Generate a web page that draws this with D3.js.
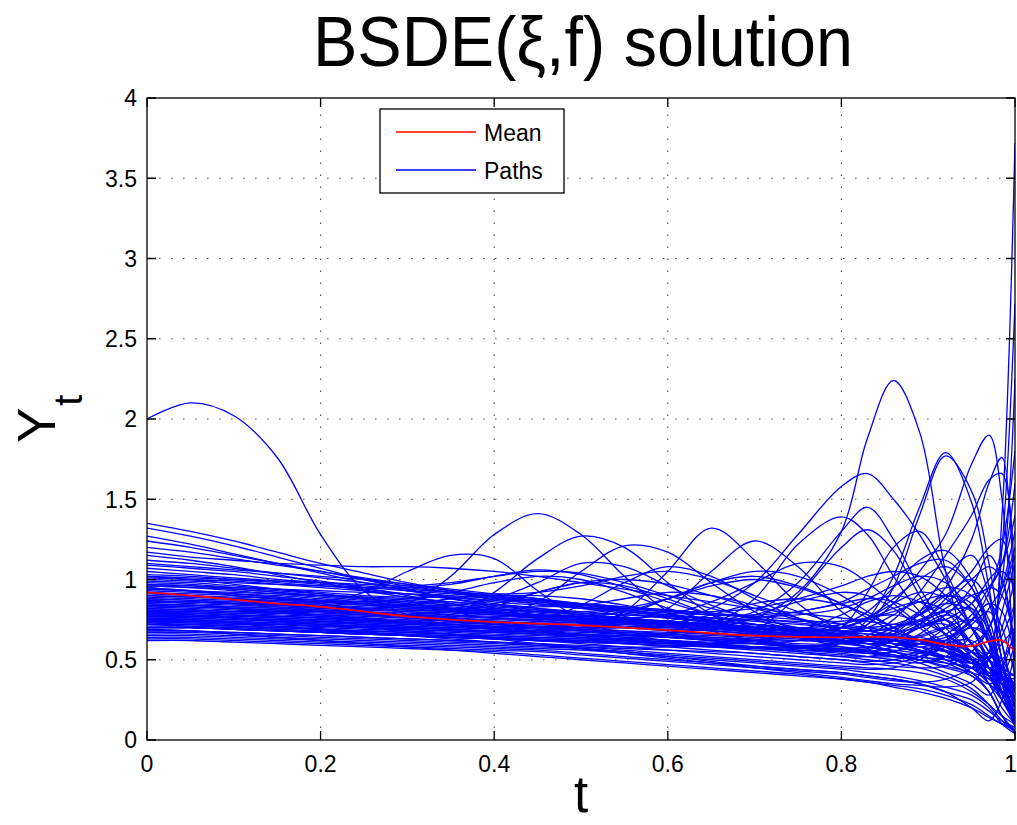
<!DOCTYPE html>
<html>
<head>
<meta charset="utf-8">
<script src="https://cdn.jsdelivr.net/npm/d3@7"></script>
<style>
  body { margin: 0; background: #fff; }
  text { font-family: "Liberation Sans", Arial, Helvetica, sans-serif; fill: #000; }
</style>
</head>
<body>
<script>
// Temps de la grille (plus fin vers t = 1)
const tGrid = [0, 0.05, 0.1, 0.15, 0.2, 0.25, 0.3, 0.35, 0.4, 0.45, 0.5, 0.55, 0.6, 0.65, 0.7, 0.75, 0.8,
  0.83, 0.86, 0.89, 0.92, 0.95, 0.97, 0.985, 1];

// Moyenne (rouge)
const meanPath = [0.92, 0.90, 0.875, 0.85, 0.83, 0.80, 0.77, 0.75, 0.735, 0.725, 0.715, 0.70, 0.685, 0.665, 0.65,
  0.643, 0.64, 0.642, 0.64, 0.625, 0.595, 0.585, 0.615, 0.62, 0.55];

// Trajectoires (bleu), une valeur par temps de tGrid
const paths = [
  [2.00,2.10,2.02,1.76,1.28, 0.93,0.78,0.74,0.72,0.70, 0.68,0.66,0.64,0.62,0.60, 0.58,0.57,0.58,0.62,0.70, 0.75,0.60,0.45,0.35,0.30],
  [0.95,0.93,0.90,0.88,0.85, 0.82,0.85,1.02,1.28,1.41, 1.28,1.02,0.80,0.68,0.62, 0.58,0.55,0.55,0.58,0.62, 0.60,0.50,0.40,0.30,0.25],
  [0.85,0.84,0.82,0.80,0.78, 0.76,0.74,0.78,0.92,1.13, 1.27,1.20,0.98,0.78,0.65, 0.58,0.55,0.56,0.62,0.70, 0.72,0.60,0.50,0.45,0.40],
  [0.86,0.86,0.85,0.85,0.86, 0.92,1.05,1.15,1.13,0.93, 0.75,0.66,0.62,0.60,0.58, 0.55,0.52,0.52,0.55,0.60, 0.58,0.50,0.42,0.35,0.30],
  [0.80,0.79,0.78,0.77,0.76, 0.74,0.73,0.73,0.76,0.86, 1.05,1.21,1.17,0.98,0.80, 0.68,0.62,0.60,0.62,0.70, 0.78,0.70,0.55,0.45,0.40],
  [0.78,0.77,0.76,0.75,0.74, 0.72,0.70,0.69,0.68,0.68, 0.70,0.80,1.05,1.32,1.12, 0.85,0.68,0.62,0.60,0.60, 0.62,0.55,0.45,0.38,0.32],
  [0.92,0.90,0.88,0.86,0.84, 0.82,0.80,0.78,0.76,0.74, 0.73,0.74,0.82,1.05,1.24, 1.08,0.80,0.70,0.62,0.58, 0.55,0.50,0.45,0.40,0.35],
  [0.70,0.70,0.69,0.68,0.67, 0.66,0.65,0.64,0.63,0.62, 0.62,0.63,0.66,0.72,0.88, 1.22,1.39,1.28,1.02,0.80, 0.66,0.55,0.45,0.35,0.30],
  [0.82,0.81,0.80,0.79,0.78, 0.77,0.76,0.75,0.74,0.73, 0.72,0.72,0.74,0.82,0.98, 1.28,1.58,1.66,1.50,1.28, 1.00,0.70,0.50,0.40,0.35],
  [0.74,0.74,0.73,0.72,0.71, 0.70,0.69,0.68,0.67,0.66, 0.65,0.65,0.66,0.70,0.76, 0.92,1.30,1.88,2.24,1.92, 1.05,0.50,0.35,0.30,0.30],
  [0.95,0.93,0.91,0.89,0.87, 0.85,0.83,0.81,0.79,0.77, 0.75,0.74,0.73,0.74,0.80, 0.98,1.30,1.45,1.25,0.95, 0.70,0.55,0.45,0.40,0.38],
  [0.68,0.68,0.67,0.66,0.65, 0.64,0.63,0.62,0.61,0.60, 0.59,0.58,0.58,0.60,0.68, 0.90,1.20,1.31,1.18,0.90, 0.65,0.50,0.40,0.30,0.25],
  [0.72,0.72,0.71,0.70,0.69, 0.68,0.67,0.66,0.65,0.64, 0.63,0.62,0.61,0.60,0.60, 0.62,0.70,0.92,1.20,1.30, 1.05,0.70,0.50,0.35,0.30],
  [0.80,0.79,0.78,0.77,0.76, 0.75,0.74,0.72,0.70,0.68, 0.66,0.64,0.62,0.60,0.58, 0.58,0.62,0.75,1.02,1.45, 1.79,1.48,0.95,0.50,0.20],
  [1.02,1.00,0.97,0.94,0.91, 0.88,0.85,0.82,0.80,0.78, 0.76,0.74,0.72,0.70,0.68, 0.66,0.66,0.72,0.95,1.40, 1.77,1.55,1.10,0.60,0.25],
  [0.75,0.75,0.74,0.73,0.72, 0.71,0.70,0.69,0.68,0.67, 0.66,0.65,0.64,0.63,0.62, 0.62,0.65,0.72,0.85,1.05, 1.28,1.72,1.90,1.50,0.30],
  [0.88,0.87,0.86,0.84,0.82, 0.80,0.78,0.76,0.74,0.72, 0.70,0.68,0.66,0.64,0.62, 0.60,0.60,0.62,0.68,0.78, 0.95,1.25,1.60,1.76,0.60],
  [0.70,0.70,0.69,0.68,0.67, 0.66,0.65,0.64,0.63,0.62, 0.61,0.60,0.59,0.58,0.58, 0.58,0.60,0.65,0.75,0.92, 1.15,1.40,1.62,1.66,0.90],
  [0.83,0.82,0.81,0.80,0.79, 0.78,0.77,0.76,0.75,0.74, 0.73,0.72,0.71,0.70,0.69, 0.68,0.67,0.66,0.65,0.62, 0.55,0.45,0.55,1.40,3.72],
  [0.97,0.96,0.94,0.92,0.90, 0.88,0.86,0.84,0.82,0.80, 0.78,0.76,0.74,0.72,0.70, 0.68,0.66,0.64,0.62,0.58, 0.52,0.48,0.55,1.20,2.72],
  [1.35,1.30,1.24,1.17,1.10, 1.04,0.98,0.93,0.89,0.86, 0.83,0.80,0.77,0.74,0.72, 0.70,0.68,0.68,0.70,0.75, 0.80,0.70,0.55,0.40,0.20],
  [1.32,1.27,1.21,1.14,1.07, 1.00,0.94,0.88,0.84,0.81, 0.78,0.75,0.72,0.70,0.68, 0.66,0.64,0.62,0.60,0.56, 0.50,0.45,0.50,0.60,0.70],
  [1.17,1.14,1.12,1.10,1.09, 1.08,1.08,1.07,1.05,1.02, 0.98,0.94,0.90,0.86,0.82, 0.79,0.76,0.74,0.72,0.72, 0.75,0.85,0.95,0.90,0.60],
  [1.27,1.22,1.16,1.10,1.04, 0.98,0.93,0.89,0.86,0.84, 0.82,0.80,0.78,0.76,0.74, 0.72,0.70,0.70,0.72,0.78, 0.85,0.80,0.60,0.35,0.10],
  [1.24,1.20,1.15,1.10,1.05, 1.00,0.96,0.92,0.88,0.85, 0.82,0.79,0.76,0.73,0.70, 0.67,0.64,0.62,0.60,0.58, 0.62,0.75,0.85,0.70,0.40],
  [1.20,1.17,1.13,1.09,1.05, 1.01,0.97,0.93,0.90,0.87, 0.84,0.81,0.78,0.75,0.72, 0.69,0.66,0.64,0.63,0.65, 0.70,0.60,0.40,0.25,0.15],
  [1.12,1.10,1.07,1.04,1.01, 0.98,0.95,0.92,0.89,0.87, 0.85,0.83,0.81,0.79,0.76, 0.73,0.70,0.68,0.66,0.64, 0.60,0.50,0.35,0.20,0.10],
  [1.10,1.08,1.06,1.04,1.02, 1.00,0.97,0.94,0.91,0.88, 0.85,0.82,0.80,0.78,0.77, 0.78,0.82,0.88,0.96,1.02, 0.98,0.80,0.60,0.45,0.35],
  [1.07,1.05,1.03,1.00,0.98, 0.96,0.94,0.92,0.91,0.92, 0.96,1.02,1.05,1.00,0.90, 0.80,0.72,0.68,0.65,0.62, 0.60,0.55,0.50,0.40,0.30],
  [1.05,1.03,1.01,0.99,0.97, 0.95,0.93,0.91,0.89,0.87, 0.85,0.83,0.81,0.79,0.77, 0.75,0.72,0.70,0.68,0.70, 0.78,0.95,1.15,1.00,0.50],
  [1.03,1.02,1.00,0.98,0.96, 0.94,0.91,0.88,0.85,0.82, 0.79,0.76,0.73,0.70,0.67, 0.64,0.61,0.58,0.55,0.52, 0.48,0.40,0.30,0.15,0.06],
  [1.00,0.99,0.98,0.97,0.96, 0.95,0.95,0.97,1.02,1.06, 1.03,0.95,0.86,0.78,0.72, 0.68,0.64,0.62,0.60,0.58, 0.55,0.50,0.45,0.50,0.65],
  [0.98,0.97,0.95,0.93,0.91, 0.89,0.87,0.85,0.83,0.81, 0.80,0.82,0.88,0.96,1.00, 0.95,0.85,0.78,0.70,0.62, 0.55,0.45,0.35,0.25,0.15],
  [0.96,0.95,0.94,0.92,0.90, 0.88,0.86,0.84,0.82,0.80, 0.78,0.76,0.74,0.72,0.70, 0.68,0.70,0.76,0.88,1.00, 1.08,0.95,0.70,0.40,0.15],
  [0.94,0.93,0.91,0.89,0.87, 0.85,0.83,0.81,0.79,0.77, 0.75,0.73,0.71,0.69,0.67, 0.65,0.62,0.60,0.58,0.55, 0.52,0.55,0.70,0.95,1.30],
  [0.92,0.91,0.90,0.88,0.86, 0.84,0.82,0.80,0.78,0.76, 0.74,0.72,0.70,0.68,0.66, 0.64,0.62,0.62,0.65,0.72, 0.82,0.90,0.75,0.40,0.10],
  [0.90,0.89,0.88,0.87,0.86, 0.86,0.88,0.92,0.98,1.02, 1.00,0.92,0.82,0.74,0.68, 0.64,0.60,0.58,0.56,0.54, 0.52,0.48,0.40,0.30,0.20],
  [0.88,0.87,0.86,0.85,0.84, 0.83,0.82,0.81,0.80,0.78, 0.76,0.74,0.72,0.70,0.68, 0.66,0.64,0.62,0.60,0.56, 0.50,0.42,0.30,0.15,0.05],
  [0.86,0.86,0.85,0.84,0.83, 0.82,0.81,0.80,0.79,0.78, 0.77,0.80,0.88,0.98,1.05, 1.02,0.90,0.80,0.70,0.62, 0.55,0.48,0.42,0.38,0.35],
  [0.84,0.84,0.83,0.82,0.81, 0.80,0.79,0.78,0.77,0.76, 0.75,0.74,0.73,0.72,0.71, 0.70,0.72,0.80,0.95,1.12, 1.18,1.00,0.70,0.45,0.25],
  [0.82,0.81,0.80,0.79,0.77, 0.75,0.73,0.71,0.69,0.67, 0.65,0.63,0.61,0.59,0.57, 0.55,0.53,0.52,0.52,0.55, 0.62,0.75,0.85,0.80,0.50],
  [0.80,0.80,0.79,0.79,0.78, 0.78,0.78,0.80,0.85,0.92, 0.98,1.00,0.97,0.90,0.82, 0.75,0.68,0.64,0.60,0.56, 0.52,0.45,0.38,0.30,0.22],
  [0.78,0.77,0.76,0.75,0.74, 0.73,0.72,0.71,0.70,0.69, 0.68,0.67,0.66,0.65,0.64, 0.63,0.62,0.60,0.58,0.55, 0.50,0.42,0.35,0.40,0.60],
  [0.77,0.77,0.76,0.75,0.74, 0.73,0.72,0.71,0.70,0.70, 0.72,0.78,0.88,0.98,1.02, 0.96,0.85,0.76,0.68,0.62, 0.58,0.52,0.45,0.35,0.25],
  [0.75,0.74,0.73,0.72,0.71, 0.70,0.69,0.68,0.67,0.66, 0.65,0.64,0.62,0.60,0.58, 0.56,0.54,0.52,0.50,0.48, 0.52,0.65,0.82,0.95,1.20],
  [0.74,0.74,0.73,0.72,0.71, 0.70,0.69,0.68,0.67,0.66, 0.64,0.62,0.60,0.58,0.56, 0.54,0.52,0.50,0.48,0.45, 0.40,0.32,0.22,0.12,0.05],
  [0.72,0.72,0.71,0.70,0.69, 0.68,0.67,0.66,0.65,0.64, 0.63,0.62,0.61,0.60,0.62, 0.68,0.78,0.86,0.90,0.86, 0.75,0.60,0.45,0.30,0.20],
  [0.70,0.70,0.69,0.68,0.67, 0.66,0.65,0.64,0.63,0.62, 0.61,0.60,0.59,0.58,0.57, 0.56,0.55,0.54,0.55,0.60, 0.70,0.85,1.00,1.10,1.40],
  [0.68,0.68,0.67,0.66,0.65, 0.64,0.63,0.62,0.61,0.60, 0.58,0.56,0.54,0.52,0.50, 0.48,0.46,0.45,0.44,0.42, 0.38,0.30,0.22,0.15,0.10],
  [0.66,0.66,0.65,0.64,0.63, 0.62,0.61,0.60,0.59,0.58, 0.57,0.55,0.53,0.51,0.49, 0.47,0.45,0.44,0.45,0.50, 0.60,0.70,0.65,0.40,0.15],
  [0.64,0.64,0.63,0.62,0.61, 0.60,0.59,0.58,0.57,0.56, 0.54,0.52,0.50,0.48,0.46, 0.44,0.42,0.40,0.38,0.35, 0.30,0.25,0.18,0.12,0.08],
  [0.62,0.62,0.61,0.60,0.59, 0.58,0.57,0.56,0.55,0.53, 0.51,0.49,0.47,0.45,0.43, 0.41,0.38,0.36,0.34,0.32, 0.28,0.22,0.15,0.10,0.06],
  [0.93,0.92,0.91,0.90,0.88, 0.86,0.84,0.82,0.80,0.78, 0.76,0.74,0.72,0.70,0.68, 0.66,0.64,0.63,0.62,0.60, 0.58,0.60,0.70,1.00,2.25],
  [0.85,0.84,0.83,0.82,0.80, 0.78,0.76,0.74,0.72,0.70, 0.68,0.66,0.64,0.62,0.60, 0.58,0.56,0.55,0.58,0.66, 0.78,0.90,0.95,1.10,1.60],
  [0.79,0.78,0.77,0.76,0.75, 0.74,0.73,0.72,0.71,0.70, 0.69,0.68,0.67,0.66,0.65, 0.64,0.63,0.64,0.70,0.80, 0.90,0.85,0.60,0.30,0.08],
  [0.97,0.96,0.95,0.94,0.93, 0.92,0.91,0.90,0.88,0.86, 0.84,0.82,0.80,0.80,0.82, 0.88,0.96,1.02,1.05,1.02, 0.90,0.70,0.50,0.35,0.25],
  [1.02,1.01,1.00,0.99,0.98, 0.97,0.96,0.98,1.02,1.05, 1.04,0.98,0.90,0.82,0.76, 0.70,0.65,0.62,0.58,0.55, 0.50,0.45,0.50,0.70,1.00],
  [0.73,0.73,0.72,0.72,0.71, 0.71,0.72,0.76,0.83,0.92, 0.98,0.96,0.88,0.78,0.70, 0.64,0.58,0.55,0.52,0.50, 0.48,0.45,0.40,0.30,0.18],
  [0.87,0.86,0.85,0.84,0.83, 0.82,0.81,0.80,0.79,0.78, 0.77,0.76,0.78,0.86,0.98, 1.10,1.08,0.98,0.85,0.72, 0.60,0.50,0.40,0.35,0.32],
  [0.81,0.80,0.79,0.78,0.77, 0.76,0.75,0.74,0.73,0.72, 0.71,0.70,0.69,0.68,0.66, 0.64,0.62,0.62,0.66,0.80, 1.02,1.15,0.90,0.50,0.20],
  [0.90,0.89,0.88,0.87,0.86, 0.85,0.84,0.84,0.88,0.98, 1.10,1.08,0.96,0.84,0.75, 0.68,0.62,0.58,0.55,0.52, 0.50,0.48,0.45,0.42,0.40],
  [0.76,0.76,0.75,0.74,0.73, 0.72,0.71,0.70,0.70,0.74, 0.84,0.98,1.08,1.02,0.88, 0.76,0.68,0.64,0.62,0.64, 0.70,0.75,0.65,0.45,0.30],
  [0.69,0.68,0.66,0.64,0.62, 0.60,0.58,0.56,0.54,0.52, 0.50,0.48,0.46,0.44,0.42, 0.40,0.38,0.36,0.33,0.30, 0.26,0.20,0.14,0.10,0.08],
  [0.80,0.78,0.76,0.74,0.72, 0.70,0.68,0.66,0.63,0.60, 0.57,0.54,0.51,0.48,0.45, 0.42,0.39,0.37,0.35,0.34, 0.33,0.36,0.50,0.80,1.10],
  [0.76,0.75,0.73,0.71,0.69, 0.67,0.65,0.63,0.61,0.59, 0.57,0.55,0.52,0.49,0.46, 0.44,0.42,0.40,0.38,0.35, 0.30,0.20,0.12,0.25,0.55],
  [1.15,1.12,1.08,1.03,0.98, 0.93,0.89,0.86,0.84,0.83, 0.84,0.88,0.92,0.90,0.84, 0.76,0.70,0.68,0.70,0.78, 0.90,1.00,0.85,0.50,0.20],
  [1.09,1.07,1.05,1.02,0.99, 0.95,0.90,0.85,0.80,0.76, 0.73,0.70,0.68,0.66,0.65, 0.66,0.70,0.76,0.85,0.92, 0.88,0.70,0.45,0.25,0.12],
  [0.99,0.98,0.96,0.94,0.92, 0.90,0.89,0.89,0.90,0.90, 0.88,0.84,0.79,0.74,0.70, 0.68,0.70,0.75,0.82,0.86, 0.80,0.60,0.40,0.30,0.35],
  [0.91,0.90,0.89,0.88,0.87, 0.86,0.84,0.82,0.79,0.76, 0.73,0.71,0.70,0.72,0.78, 0.86,0.92,0.90,0.82,0.70, 0.58,0.48,0.40,0.45,0.70],
  [0.83,0.83,0.82,0.81,0.80, 0.79,0.78,0.77,0.76,0.75, 0.74,0.73,0.72,0.71,0.70, 0.68,0.64,0.60,0.55,0.50, 0.45,0.40,0.30,0.15,0.05],
  [0.81,0.81,0.80,0.80,0.80, 0.81,0.84,0.88,0.90,0.88, 0.83,0.77,0.72,0.68,0.66, 0.65,0.66,0.70,0.78,0.88, 0.95,0.90,0.70,0.40,0.12],
  [0.79,0.79,0.78,0.77,0.76, 0.75,0.74,0.73,0.72,0.71, 0.70,0.70,0.72,0.78,0.85, 0.88,0.84,0.78,0.70,0.62, 0.55,0.50,0.52,0.65,0.85],
  [0.77,0.76,0.75,0.74,0.73, 0.72,0.71,0.70,0.69,0.68, 0.67,0.66,0.65,0.64,0.63, 0.62,0.61,0.62,0.66,0.74, 0.85,1.00,1.08,1.00,0.55],
  [0.75,0.75,0.74,0.73,0.72, 0.71,0.70,0.69,0.68,0.67, 0.66,0.65,0.64,0.62,0.60, 0.58,0.56,0.54,0.52,0.52, 0.58,0.72,0.80,0.60,0.20],
  [0.73,0.72,0.71,0.70,0.69, 0.68,0.67,0.66,0.64,0.62, 0.60,0.58,0.56,0.54,0.52, 0.50,0.48,0.47,0.48,0.52, 0.60,0.62,0.50,0.30,0.10],
  [0.71,0.71,0.70,0.69,0.68, 0.67,0.66,0.65,0.64,0.63, 0.62,0.61,0.60,0.60,0.62, 0.66,0.72,0.76,0.78,0.74, 0.66,0.55,0.45,0.35,0.25],
  [0.67,0.67,0.66,0.65,0.64, 0.63,0.62,0.61,0.60,0.59, 0.58,0.57,0.56,0.55,0.54, 0.52,0.50,0.48,0.46,0.45, 0.46,0.55,0.70,0.90,1.15],
  [0.65,0.65,0.64,0.63,0.62, 0.61,0.60,0.59,0.58,0.57, 0.56,0.54,0.52,0.50,0.48, 0.46,0.44,0.42,0.40,0.37, 0.33,0.28,0.20,0.10,0.04],
  [0.63,0.63,0.62,0.61,0.60, 0.59,0.58,0.57,0.56,0.55, 0.53,0.51,0.49,0.47,0.45, 0.43,0.41,0.39,0.37,0.36, 0.38,0.45,0.55,0.50,0.30],
  [0.87,0.86,0.85,0.83,0.81, 0.79,0.77,0.75,0.73,0.71, 0.69,0.67,0.65,0.63,0.61, 0.59,0.57,0.55,0.53,0.50, 0.46,0.42,0.38,0.30,0.15],
  [0.89,0.88,0.87,0.86,0.85, 0.84,0.83,0.82,0.81,0.80, 0.79,0.78,0.77,0.76,0.75, 0.74,0.74,0.76,0.80,0.86, 0.90,0.82,0.62,0.40,0.25],
  [1.01,1.00,0.99,0.97,0.95, 0.93,0.91,0.89,0.87,0.85, 0.83,0.81,0.79,0.78,0.78, 0.80,0.86,0.94,1.02,1.10, 1.12,0.95,0.65,0.35,0.10],
  [0.94,0.93,0.92,0.91,0.90, 0.89,0.88,0.86,0.84,0.82, 0.80,0.78,0.76,0.74,0.72, 0.70,0.68,0.66,0.64,0.62, 0.64,0.74,0.92,1.20,1.80],
  [0.84,0.83,0.82,0.81,0.80, 0.79,0.78,0.77,0.76,0.75, 0.74,0.73,0.72,0.71,0.70, 0.69,0.68,0.68,0.70,0.74, 0.80,0.82,0.68,0.45,0.25],
  [0.78,0.78,0.77,0.76,0.75, 0.74,0.73,0.72,0.71,0.70, 0.70,0.70,0.71,0.73,0.76, 0.80,0.85,0.88,0.86,0.78, 0.66,0.52,0.40,0.28,0.15],
  [0.72,0.71,0.70,0.69,0.68, 0.67,0.66,0.65,0.64,0.63, 0.62,0.61,0.60,0.59,0.58, 0.57,0.56,0.57,0.62,0.72, 0.88,1.05,1.20,1.25,0.80],
  [0.70,0.70,0.69,0.68,0.67, 0.66,0.65,0.64,0.63,0.62, 0.61,0.60,0.58,0.56,0.54, 0.52,0.50,0.49,0.50,0.54, 0.62,0.70,0.62,0.35,0.12],
  [0.86,0.85,0.84,0.83,0.82, 0.81,0.80,0.79,0.78,0.77, 0.76,0.75,0.74,0.72,0.70, 0.68,0.66,0.64,0.62,0.60, 0.56,0.50,0.40,0.25,0.10],
  [0.96,0.95,0.93,0.91,0.89, 0.87,0.85,0.83,0.81,0.79, 0.77,0.75,0.73,0.71,0.69, 0.67,0.65,0.63,0.62,0.62, 0.66,0.78,0.95,1.05,0.95],
  [0.74,0.73,0.72,0.71,0.70, 0.69,0.68,0.67,0.66,0.65, 0.64,0.63,0.62,0.61,0.60, 0.59,0.58,0.56,0.53,0.48, 0.42,0.35,0.28,0.45,0.85]
];

// Graduations
const xTicks = [0, 0.2, 0.4, 0.6, 0.8, 1];
const yTicks = [0, 0.5, 1, 1.5, 2, 2.5, 3, 3.5, 4];
const legendLabels = ["Mean", "Paths"];
const legendColors = ["#ff0000", "#0000ff"];

const WIDTH = 1017;
const HEIGHT = 825;
// zone des axes
const mLeft = 147, mRight = 1015, mTop = 98, mBottom = 740;

const svg = d3.select("body").append("svg")
  .attr("width", WIDTH)
  .attr("height", HEIGHT);

const x = d3.scaleLinear().domain([0, 1]).range([mLeft, mRight]);
const y = d3.scaleLinear().domain([0, 4]).range([mBottom, mTop]);

svg.append("rect")
  .attr("width", WIDTH).attr("height", HEIGHT).attr("fill", "#fff");

svg.append("clipPath").attr("id", "zone")
  .append("rect")
  .attr("x", mLeft).attr("y", mTop)
  .attr("width", mRight - mLeft).attr("height", mBottom - mTop);

// Grille pointillée
const grid = svg.append("g")
  .attr("stroke", "#555")
  .attr("stroke-width", 1.2)
  .attr("stroke-dasharray", "1.5,10.5");
grid.selectAll(".gx")
  .data(xTicks.slice(1, -1))
  .enter().append("line")
  .attr("x1", d => x(d)).attr("x2", d => x(d))
  .attr("y1", mBottom).attr("y2", mTop);
grid.selectAll(".gy")
  .data(yTicks.slice(1, -1))
  .enter().append("line")
  .attr("x1", mLeft).attr("x2", mRight)
  .attr("y1", d => y(d)).attr("y2", d => y(d));

// Courbes
const line = d3.line()
  .x((d, i) => x(tGrid[i]))
  .y(d => y(d))
  .curve(d3.curveCatmullRom.alpha(0.5));

const plot = svg.append("g").attr("clip-path", "url(#zone)");
plot.selectAll(".path")
  .data(paths)
  .enter().append("path")
  .attr("d", line)
  .attr("fill", "none")
  .attr("stroke", "#0000ff")
  .attr("stroke-width", 1.3);

plot.append("path")
  .attr("d", line(meanPath))
  .attr("fill", "none")
  .attr("stroke", "#ff0000")
  .attr("stroke-width", 1.8);

// Cadre et graduations (vers l'intérieur, des deux côtés)
const axes = svg.append("g").attr("stroke", "#000").attr("stroke-width", 1.3);
axes.append("rect")
  .attr("x", mLeft).attr("y", mTop)
  .attr("width", mRight - mLeft).attr("height", mBottom - mTop)
  .attr("fill", "none");
axes.selectAll(".tx")
  .data(xTicks)
  .enter().append("path")
  .attr("d", d => `M${x(d)},${mBottom}v-9M${x(d)},${mTop}v9`);
axes.selectAll(".ty")
  .data(yTicks)
  .enter().append("path")
  .attr("d", d => `M${mLeft},${y(d)}h9M${mRight},${y(d)}h-9`);

svg.selectAll(".xlab")
  .data(xTicks)
  .enter().append("text")
  .attr("x", d => d === 1 ? WIDTH : x(d))
  .attr("y", 772)
  .attr("text-anchor", d => d === 1 ? "end" : "middle")
  .attr("font-size", 23)
  .text(d => String(d));

svg.selectAll(".ylab")
  .data(yTicks)
  .enter().append("text")
  .attr("x", 137)
  .attr("y", d => y(d))
  .attr("dy", "0.36em")
  .attr("text-anchor", "end")
  .attr("font-size", 23)
  .text(d => String(d));

// Titre et noms des axes
svg.append("text")
  .attr("x", 583).attr("y", 66)
  .attr("text-anchor", "middle")
  .attr("font-size", 70)
  .attr("textLength", 540)
  .attr("lengthAdjust", "spacingAndGlyphs")
  .text("BSDE(ξ,f) solution");

svg.append("text")
  .attr("x", 581).attr("y", 812)
  .attr("text-anchor", "middle")
  .attr("font-size", 51)
  .text("t");

const ylab = svg.append("text")
  .attr("transform", "translate(55,443) rotate(-90)")
  .attr("font-size", 53);
ylab.append("tspan").text("Y");
ylab.append("tspan").attr("font-size", 40).attr("dx", 2).attr("dy", 27).text("t");

// Légende
const legend = svg.append("g");
legend.append("rect")
  .attr("x", 380).attr("y", 109)
  .attr("width", 184).attr("height", 84)
  .attr("fill", "#fff").attr("stroke", "#000").attr("stroke-width", 1.3);
const items = legend.selectAll(".item")
  .data(legendLabels)
  .enter().append("g")
  .attr("transform", (d, i) => `translate(0,${132 + i * 38})`);
items.append("line")
  .attr("x1", 396).attr("x2", 476)
  .attr("stroke", (d, i) => legendColors[i])
  .attr("stroke-width", 1.3);
items.append("text")
  .attr("x", 484).attr("y", 9)
  .attr("font-size", 23)
  .text(d => d);
</script>
</body>
</html>
